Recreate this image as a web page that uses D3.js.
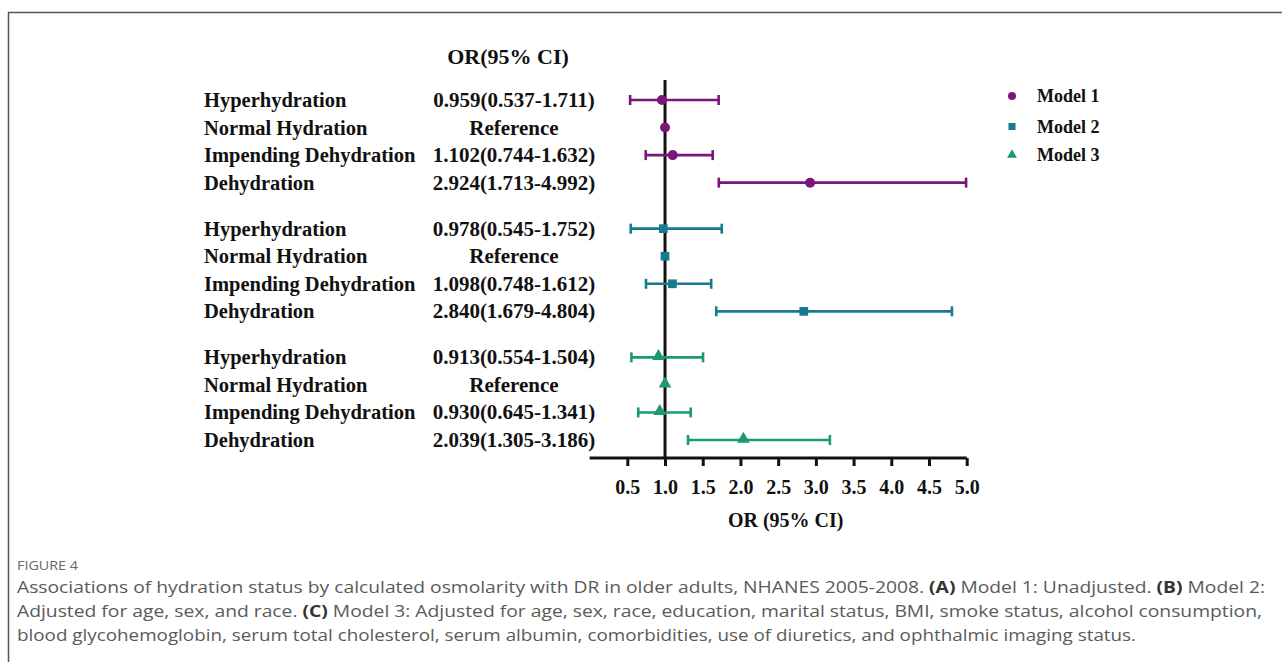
<!DOCTYPE html>
<html>
<head>
<meta charset="utf-8">
<script src="https://cdn.jsdelivr.net/npm/d3@7"></script>
<style>
  html, body { margin: 0; padding: 0; background: #fff; }
  svg { display: block; }
</style>
</head>
<body>
<svg id="chart" width="1282" height="662"></svg>
<script>
// ---- data ----
const categories = ["Hyperhydration", "Normal Hydration", "Impending Dehydration", "Dehydration"];
const models = ["Model 1", "Model 2", "Model 3"];
const model1OR = [0.959, 1, 1.102, 2.924];
const model1Lo = [0.537, null, 0.744, 1.713];
const model1Hi = [1.711, null, 1.632, 4.992];
const model2OR = [0.978, 1, 1.098, 2.840];
const model2Lo = [0.545, null, 0.748, 1.679];
const model2Hi = [1.752, null, 1.612, 4.804];
const model3OR = [0.913, 1, 0.930, 2.039];
const model3Lo = [0.554, null, 0.645, 1.305];
const model3Hi = [1.504, null, 1.341, 3.186];
const xTicks = [0.5, 1.0, 1.5, 2.0, 2.5, 3.0, 3.5, 4.0, 4.5, 5.0];
const captionTitle = "FIGURE 4";

const modelColors = ["#7b1579", "#167b8c", "#1b9a6c"];
const modelShapes = [d3.symbolCircle, d3.symbolSquare, d3.symbolTriangle];
const modelSizes = [78, 76, 70];

const rows = [];
const ors = [model1OR, model2OR, model3OR];
const los = [model1Lo, model2Lo, model3Lo];
const his = [model1Hi, model2Hi, model3Hi];
models.forEach((m, g) => {
  categories.forEach((c, r) => {
    rows.push({ g, r, cat: c, or: ors[g][r], lo: los[g][r], hi: his[g][r] });
  });
});

const svg = d3.select("#chart");
const serif = "'Liberation Serif', 'Times New Roman', serif";

// frame
svg.append("path")
  .attr("d", "M8.5,662 L8.5,12.5 L1282,12.5")
  .attr("fill", "none").attr("stroke", "#555").attr("stroke-width", 1.5);

// scales
const x = d3.scaleLinear().domain([0, 5]).range([589.6, 966.7]);
const groupStep = 4.67;
const y = d3.scaleLinear().domain([0, 2 * groupStep + 3]).range([100, 440]);
const rowPos = d => d.g * groupStep + d.r;
const axisY = 458;

// header
svg.append("text").attr("x", 508).attr("y", 64)
  .attr("text-anchor", "middle")
  .attr("font-family", serif).attr("font-weight", "bold").attr("font-size", 22)
  .attr("fill", "#111").text("OR(95% CI)");

// row labels
svg.append("g").selectAll("text").data(rows).join("text")
  .attr("x", 204).attr("y", d => y(rowPos(d)) + 7)
  .attr("font-family", serif).attr("font-weight", "bold").attr("font-size", 20.5)
  .attr("fill", "#111").text(d => d.cat);

svg.append("g").selectAll("text").data(rows).join("text")
  .attr("x", 514).attr("y", d => y(rowPos(d)) + 7)
  .attr("text-anchor", "middle")
  .attr("font-family", serif).attr("font-weight", "bold").attr("font-size", 21)
  .attr("fill", "#111")
  .text(d => d.lo == null ? "Reference" : `${d.or.toFixed(3)}(${d.lo.toFixed(3)}-${d.hi.toFixed(3)})`);

// reference line at 1
svg.append("line")
  .attr("x1", x(1)).attr("x2", x(1)).attr("y1", 80).attr("y2", axisY)
  .attr("stroke", "#111").attr("stroke-width", 3);

// x axis
const axis = d3.axisBottom(x).tickValues(xTicks).tickFormat(d3.format(".1f")).tickSize(8).tickPadding(14);
const ax = svg.append("g").attr("transform", `translate(0,${axisY})`).call(axis);
ax.select(".domain").attr("stroke", "#111").attr("stroke-width", 3)
  .attr("d", `M${x(0)},0H${x(5)}`);
ax.selectAll(".tick line").attr("stroke", "#111").attr("stroke-width", 3);
ax.selectAll(".tick text")
  .attr("font-family", serif).attr("font-weight", "bold").attr("font-size", 20)
  .attr("fill", "#111");

svg.append("text").attr("x", x(2.6)).attr("y", 527)
  .attr("text-anchor", "middle")
  .attr("font-family", serif).attr("font-weight", "bold").attr("font-size", 20)
  .attr("fill", "#111").text("OR (95% CI)");

// error bars
const ci = rows.filter(d => d.lo != null);
const eb = svg.append("g");
eb.selectAll("line.ci").data(ci).join("line").attr("class", "ci")
  .attr("x1", d => x(d.lo)).attr("x2", d => x(d.hi))
  .attr("y1", d => y(rowPos(d))).attr("y2", d => y(rowPos(d)))
  .attr("stroke", d => modelColors[d.g]).attr("stroke-width", 2.6);
["lo", "hi"].forEach(k => {
  eb.selectAll("line.cap" + k).data(ci).join("line").attr("class", "cap" + k)
    .attr("x1", d => x(d[k])).attr("x2", d => x(d[k]))
    .attr("y1", d => y(rowPos(d)) - 5).attr("y2", d => y(rowPos(d)) + 5)
    .attr("stroke", d => modelColors[d.g]).attr("stroke-width", 2.6);
});

// markers
svg.append("g").selectAll("path").data(rows).join("path")
  .attr("transform", d => `translate(${x(d.or)},${y(rowPos(d)) + (d.g === 2 ? -1 : 0)})`)
  .attr("d", d => d3.symbol().type(modelShapes[d.g]).size(modelSizes[d.g])())
  .attr("fill", d => modelColors[d.g]);

// legend
const lg = svg.append("g");
const legendY = [96, 126.5, 155];
models.forEach((m, i) => {
  lg.append("path")
    .attr("transform", `translate(1012,${legendY[i]})`)
    .attr("d", d3.symbol().type(modelShapes[i]).size(i === 2 ? 42 : 50)())
    .attr("fill", modelColors[i]);
  lg.append("text").attr("x", 1037).attr("y", legendY[i] + 6)
    .attr("font-family", serif).attr("font-weight", "bold").attr("font-size", 18)
    .attr("fill", "#111").text(m);
});

// caption
const sans = "'Open Sans', 'Noto Sans', sans-serif";
svg.append("text").attr("x", 17).attr("y", 570)
  .attr("font-family", sans).attr("font-size", 12.5).attr("fill", "#666")
  .attr("textLength", 61).attr("lengthAdjust", "spacingAndGlyphs")
  .text(captionTitle);

const capLines = [
  [["Associations of hydration status by calculated osmolarity with DR in older adults, NHANES 2005-2008. ", false], ["(A)", true], [" Model 1: Unadjusted. ", false], ["(B)", true], [" Model 2:", false]],
  [["Adjusted for age, sex, and race. ", false], ["(C)", true], [" Model 3: Adjusted for age, sex, race, education, marital status, BMI, smoke status, alcohol consumption,", false]],
  [["blood glycohemoglobin, serum total cholesterol, serum albumin, comorbidities, use of diuretics, and ophthalmic imaging status.", false]]
];
const capWidths = [1248, 1245, 1119];
capLines.forEach((parts, i) => {
  const t = svg.append("text").attr("x", 17).attr("y", 593 + i * 24)
    .attr("font-family", sans).attr("font-size", 16).attr("fill", "#5a5a5a")
    .attr("textLength", capWidths[i]).attr("lengthAdjust", "spacingAndGlyphs");
  parts.forEach(([s, b]) => {
    t.append("tspan").attr("font-weight", b ? "bold" : "normal")
      .attr("fill", b ? "#333" : "#5a5a5a").text(s);
  });
});
</script>
</body>
</html>
